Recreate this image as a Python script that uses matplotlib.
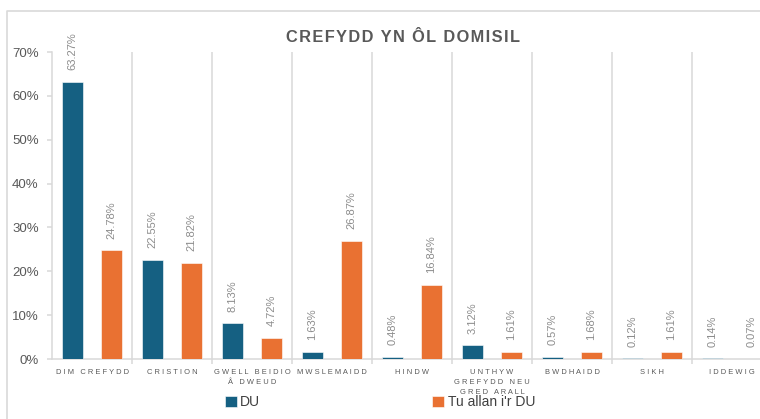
import numpy as np
import matplotlib
matplotlib.use("Agg")
import matplotlib.pyplot as plt
from matplotlib.lines import Line2D

categories = ["DIM CREFYDD", "CRISTION", "GWELL BEIDIO\nÂ DWEUD", "MWSLEMAIDD", "HINDW",
              "UNTHYW\nGREFYDD NEU\nGRED ARALL", "BWDHAIDD", "SIKH", "IDDEWIG"]
du = [63.27, 22.55, 8.13, 1.63, 0.48, 3.12, 0.57, 0.12, 0.14]
tu_allan = [24.78, 21.82, 4.72, 26.87, 16.84, 1.61, 1.68, 1.61, 0.07]
series_names = ["DU", "Tu allan i'r DU"]
title = "CREFYDD YN ÔL DOMISIL"

BLUE = "#156082"
ORANGE = "#E97132"
GRID = "#d9d9d9"
TEXT = "#595959"
FONTS = ["Liberation Sans", "DejaVu Sans"]

plt.rcParams["font.family"] = FONTS

W, H = 760, 419
fig = plt.figure(figsize=(W / 100, H / 100), dpi=100)


def px(x, y):
    # pixel position (from top-left) -> figure fraction
    return x / W, 1 - y / H


def spaced(s, gap=" "):
    # letter-spaced label text, keeps line breaks
    return "\n".join(gap.join(line) for line in s.split("\n"))


# outer chart frame
fx0, fy0 = px(7, 11)
fig.add_artist(Line2D([fx0, fx0, 1.01], [-0.01, fy0, fy0], color=GRID, lw=1.2))

left, bottom = px(52, 359)
_, top = px(0, 52)
ax = fig.add_axes([left, bottom, 720 / W, top - bottom])

x = np.arange(len(categories))
off, bw = 0.244, 0.26
b1 = ax.bar(x - off, du, bw, color=BLUE, edgecolor="white", linewidth=0.4, label=series_names[0], zorder=3)
b2 = ax.bar(x + off, tu_allan, bw, color=ORANGE, edgecolor="white", linewidth=0.4, label=series_names[1], zorder=3)

for bars, vals in ((b1, du), (b2, tu_allan)):
    for rect, v in zip(bars, vals):
        ax.annotate(f"{v:.2f}%", (rect.get_x() + rect.get_width() / 2, v),
                    xytext=(0, 8.5), textcoords="offset points", rotation=90,
                    ha="center", va="bottom", fontsize=8, color="#8c8c8c")

ax.set_xlim(-0.5, len(categories) - 0.5)
ax.set_ylim(0, 70)

# category separators
seps = np.arange(len(categories) - 1) + 0.5
ax.vlines(seps, 0, 70, color=GRID, lw=1.1, zorder=1)
ax.set_xticks(seps, minor=True)
ax.tick_params(axis="x", which="minor", length=3.5, width=1.1, color=GRID)
ax.set_xticks(x)
ax.set_xticklabels([spaced(c) for c in categories], fontsize=5.4, color=TEXT, linespacing=1.6)
ax.tick_params(axis="x", which="major", length=0, pad=7.5)

ax.set_yticks(np.arange(0, 71, 10))
ax.set_yticklabels([f"{t}%" for t in range(0, 71, 10)], fontsize=9.5, color=TEXT)
ax.tick_params(axis="y", length=3.5, width=1.1, color=GRID, pad=6)

for s in ("top", "right"):
    ax.spines[s].set_visible(False)
for s in ("left", "bottom"):
    ax.spines[s].set_color(GRID)
    ax.spines[s].set_linewidth(1.1)

tx, ty = px(403, 38)
fig.text(tx, ty, spaced(title, "\u200a"), ha="center", va="center",
         fontsize=11.8, fontweight="bold", color=TEXT)

lx, ly = px(380, 402)
fig.legend(handles=[b1, b2], labels=series_names, loc="center", bbox_to_anchor=(lx, ly),
           ncol=2, frameon=False, fontsize=10, labelcolor="#404040",
           handlelength=0.85, handleheight=0.85, handletextpad=0.25, columnspacing=12.4)

fig.savefig("out.png", dpi=100)
